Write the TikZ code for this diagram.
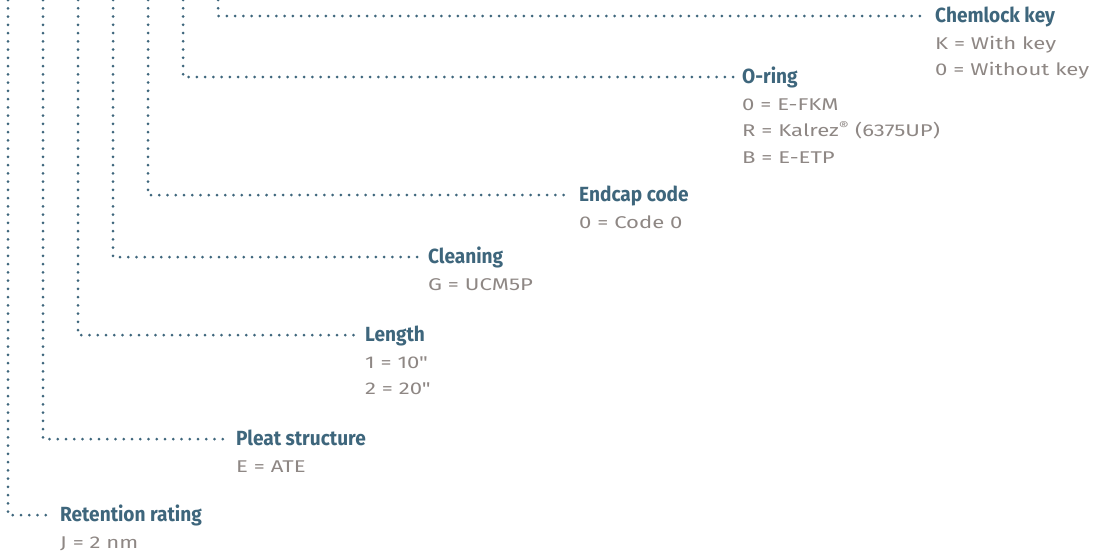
\documentclass[tikz,border=0pt]{standalone}
\usepackage{fontspec}
\setmainfont{Fira Sans}
\newfontfamily\headfont[FakeStretch=0.93]{Fira Sans}
\newfontfamily\optfont[FakeStretch=1.3]{Fira Sans}
\usetikzlibrary{calc}
\definecolor{codeblue}{HTML}{3E667C}
\definecolor{codegray}{HTML}{8E8784}
\tikzset{
  leader/.style={codeblue,line width=3pt,line cap=round,dash pattern=on 0pt off 8.25pt},
  head/.style={anchor=base west,inner sep=0pt,text=codeblue,font=\headfont\bfseries\fontsize{20.5}{22}\selectfont},
  val/.style={anchor=base west,inner sep=0pt,text=codegray,font=\optfont\fontsize{17}{18}\selectfont}
}

\begin{document}
\begin{tikzpicture}[x=1pt,y=1pt]
      \useasboundingbox (0,0) rectangle (1099,-557);
      % top ends of the leaders
      \coordinate (ret-top) at (8,0);
      \coordinate (pleat-top) at (43,0);
      \coordinate (len-top) at (78,0);
      \coordinate (clean-top) at (113,0);
      \coordinate (cap-top) at (148,0);
      \coordinate (oring-top) at (183,0);
      \coordinate (chem-top) at (218,0);
      % headings
      \node[head] (ret) at (60,-521.7) {Retention rating};
      \node[head] (pleat) at (236,-445.7) {Pleat structure};
      \node[head] (len) at (365,-341.7) {Length};
      \node[head] (clean) at (428,-263.7) {Cleaning};
      \node[head] (cap) at (579,-201.7) {Endcap code};
      \node[head] (oring) at (742,-83.7) {O-ring};
      \node[head] (chem) at (935,-22.7) {Chemlock key};
      % options
      \node[val] (ret-1) at ($(ret.base west)+(0,-26.5)$) {J = 2 nm};
      \node[val] (pleat-1) at ($(pleat.base west)+(0,-26.5)$) {E = ATE};
      \node[val] (len-1) at ($(len.base west)+(0,-26.5)$) {1 = 10"};
      \node[val] (len-2) at ($(len-1.base west)+(0,-26.5)$) {2 = 20"};
      \node[val] (clean-1) at ($(clean.base west)+(0,-26.5)$) {G = UCM5P};
      \node[val] (cap-1) at ($(cap.base west)+(0,-26.5)$) {0 = Code 0};
      \node[val] (oring-1) at ($(oring.base west)+(0,-26.5)$) {0 = E-FKM};
      \node[val] (oring-2) at ($(oring-1.base west)+(0,-26.5)$) {R = Kalrez\textsuperscript{®} (6375UP)};
      \node[val] (oring-3) at ($(oring-2.base west)+(0,-26.5)$) {B = E-ETP};
      \node[val] (chem-1) at ($(chem.base west)+(0,-26.5)$) {K = With key};
      \node[val] (chem-2) at ($(chem-1.base west)+(0,-26.5)$) {0 = Without key};
      % leaders
      \draw[leader] (ret-top) |- ($(ret.base west)+(-8,6.7)$);
      \draw[leader] (pleat-top) |- ($(pleat.base west)+(-8,6.7)$);
      \draw[leader] (len-top) |- ($(len.base west)+(-8,6.7)$);
      \draw[leader] (clean-top) |- ($(clean.base west)+(-8,6.7)$);
      \draw[leader] (cap-top) |- ($(cap.base west)+(-8,6.7)$);
      \draw[leader] (oring-top) |- ($(oring.base west)+(-8,6.7)$);
      \draw[leader] (chem-top) |- ($(chem.base west)+(-8,6.7)$);
    \end{tikzpicture}
\end{document}
